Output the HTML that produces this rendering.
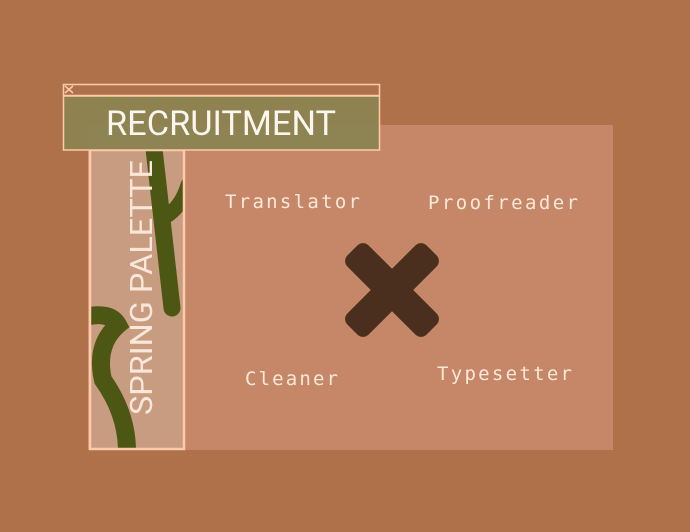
<!DOCTYPE html>
<html><head><meta charset="utf-8"><style>
html,body{margin:0;padding:0;background:#af7149;}
svg{display:block}
.m{font-family:"DejaVu Sans Mono","Liberation Mono",monospace;font-size:19px;fill:#fde8d8;}
</style></head><body>
<svg width="690" height="532" viewBox="0 0 690 532">
<rect width="690" height="532" fill="#af7149"/>
<rect x="88" y="125" width="525" height="325" fill="#c58767"/>
<defs><clipPath id="c"><rect x="90" y="150" width="94" height="298"/></clipPath></defs>
<rect x="90" y="150" width="94" height="299" fill="#c89c80"/>
<g clip-path="url(#c)" fill="none" stroke="#4d5714" stroke-linecap="round">
<path d="M153 140 L172 308" stroke-width="17"/>
<path d="M168 215 Q182 205 188 185" stroke-width="15"/>
<path d="M80 318 Q110 310 118 325 Q95 345 103 380 Q128 415 127 455" stroke-width="18"/>
</g>
<rect x="90" y="150" width="94" height="299" fill="none" stroke="#ffc9aa" stroke-width="2.5"/>
<text transform="translate(152,415) rotate(-90)" font-family="Roboto,'Liberation Sans',sans-serif" font-size="31" fill="#fbe7da" textLength="255" lengthAdjust="spacingAndGlyphs">SPRING PALETTE</text>
<rect x="63.5" y="84.5" width="316" height="11" fill="#af7149" stroke="#ffc9aa" stroke-width="1.5"/>
<path d="M65 86 L73 93 M73 86 L65 93" stroke="#ffc9aa" stroke-width="1.5"/>
<rect x="63.5" y="96" width="316" height="54" fill="#8c8352" fill-opacity="0.97" stroke="#ffc9aa" stroke-width="1.5"/>
<text x="106" y="135" font-family="Roboto,'Liberation Sans',sans-serif" font-size="34" fill="#fdf6ee" textLength="230" lengthAdjust="spacingAndGlyphs">RECRUITMENT</text>
<text class="m" x="225" y="208" textLength="135">Translator</text>
<text class="m" x="428" y="209" textLength="150">Proofreader</text>
<text class="m" x="245" y="385" textLength="93">Cleaner</text>
<text class="m" x="437" y="380" textLength="135">Typesetter</text>
<g transform="translate(392,290) rotate(45)" fill="#4a2f1e">
<rect x="-56" y="-15" width="112" height="30" rx="8"/>
<rect x="-15" y="-56" width="30" height="112" rx="8"/>
</g>
</svg>
</body></html>
